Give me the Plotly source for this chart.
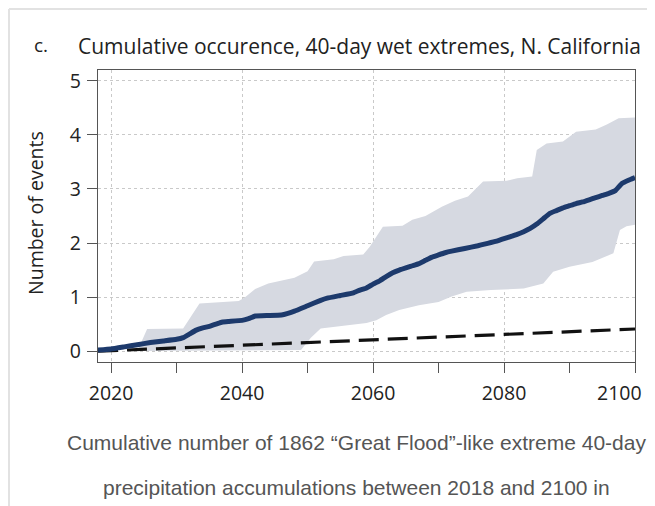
import plotly.graph_objects as go

# ---- data ----
mean_years = [2018, 2020, 2022, 2024, 2026, 2028, 2030, 2031, 2032, 2033, 2034, 2035, 2036, 2037, 2038,
              2040, 2041, 2042, 2044, 2046, 2047, 2048, 2050, 2052, 2053, 2055, 2057, 2058, 2059, 2060,
              2061, 2062, 2063, 2064, 2066, 2067, 2068, 2069, 2070, 2071, 2072, 2074, 2076, 2077, 2078,
              2079, 2080, 2081, 2082, 2083, 2084, 2085, 2086, 2087, 2088, 2089, 2090, 2091, 2092, 2093,
              2094, 2095, 2096, 2097, 2098, 2099, 2100]
mean_events = [0.02, 0.04, 0.08, 0.12, 0.16, 0.19, 0.22, 0.25, 0.32, 0.39, 0.43, 0.46, 0.50, 0.54, 0.55,
               0.57, 0.60, 0.65, 0.66, 0.67, 0.70, 0.74, 0.84, 0.94, 0.98, 1.03, 1.08, 1.13, 1.17, 1.24,
               1.30, 1.38, 1.45, 1.50, 1.58, 1.62, 1.68, 1.74, 1.78, 1.82, 1.85, 1.90, 1.95, 1.98, 2.01,
               2.04, 2.08, 2.12, 2.16, 2.21, 2.27, 2.35, 2.45, 2.55, 2.60, 2.65, 2.69, 2.73, 2.76, 2.80,
               2.84, 2.88, 2.92, 2.97, 3.10, 3.16, 3.21]

upper_years = [2018, 2024, 2025.5, 2031, 2033.5, 2039.5, 2040.5, 2042, 2044, 2046, 2048, 2050, 2051,
               2054, 2055.5, 2058.5, 2059.5, 2061.5, 2064.5, 2066, 2068, 2070.5, 2072.5, 2074.5, 2076.8,
               2080.4, 2082, 2084.3, 2085, 2086.5, 2089, 2091, 2094, 2095.7, 2097.5, 2100]
upper_events = [0.0, 0.0, 0.41, 0.42, 0.88, 0.93, 1.00, 1.15, 1.25, 1.30, 1.36, 1.48, 1.66,
                1.70, 1.76, 1.79, 1.93, 2.30, 2.32, 2.43, 2.50, 2.67, 2.78, 2.86, 3.14,
                3.15, 3.20, 3.23, 3.72, 3.84, 3.88, 4.06, 4.10, 4.19, 4.31, 4.32]

lower_years = [2018, 2049, 2050.5, 2052, 2056, 2059, 2060.5, 2062, 2064, 2067, 2070, 2072, 2074.3, 2078,
               2083, 2085, 2086, 2087.5, 2090, 2093.5, 2096.7, 2097.7, 2098.7, 2100]
lower_events = [0.0, 0.02, 0.25, 0.42, 0.48, 0.52, 0.57, 0.67, 0.76, 0.85, 0.91, 1.01, 1.10, 1.13,
                1.16, 1.22, 1.25, 1.47, 1.56, 1.65, 1.81, 2.24, 2.31, 2.34]

baseline_years = [2018, 2040, 2060, 2080, 2100]
baseline_events = [0.0, 0.11, 0.21, 0.31, 0.41]

x_tickvals = [2020, 2040, 2060, 2080, 2100]
x_ticktext = ["2020", "2040", "2060", "2080", ""]   # last label placed separately (shifted left)
last_x_label = "2100"
y_tickvals = [0, 1, 2, 3, 4, 5]

title_text = "Cumulative occurence, 40-day wet extremes, N. California"
panel_label = "c."
y_title = "Number of events"
caption_1 = "Cumulative number of 1862 \u201cGreat Flood\u201d-like extreme 40-day"
caption_2 = "precipitation accumulations between 2018 and 2100 in"

# ---- figure ----
OFF = 8  # page body margin
W, H = 655 - OFF, 506 - OFF
L, T = 98 - OFF, 70 - OFF
R = W - (635 - OFF)
B = H - (362 - OFF)
pw, ph = W - L - R, H - T - B


def px2x(px):  # page pixel -> paper
    return (px - OFF - L) / pw


def py2y(py):
    return (H - B - (py - OFF)) / ph


FONT = "Open Sans"
fig = go.Figure()

band_x = upper_years + lower_years[::-1]
band_y = upper_events + lower_events[::-1]
fig.add_trace(go.Scatter(x=band_x, y=band_y, fill="toself", mode="lines",
                         line=dict(width=0), fillcolor="#d6d9e1", hoverinfo="skip",
                         showlegend=False))
fig.add_trace(go.Scatter(x=baseline_years, y=baseline_events, mode="lines",
                         line=dict(color="#111111", width=3.2, dash="20px,9px"),
                         showlegend=False))
fig.add_trace(go.Scatter(x=mean_years, y=mean_events, mode="lines",
                         line=dict(color="#1d3a6c", width=5, shape="spline", smoothing=0.3),
                         showlegend=False))

TICKFONT = dict(family=FONT, size=19.5, color="#222222")
axis_common = dict(showline=True, linecolor="#555555", linewidth=1.3, mirror=True,
                   ticks="outside", ticklen=10, tickcolor="#555555", tickwidth=1.3,
                   gridcolor="#c9c9c9", griddash="dot", gridwidth=1, zeroline=False,
                   tickfont=TICKFONT)

fig.update_xaxes(range=[2018, 2100], tickvals=x_tickvals, ticktext=x_ticktext, ticklabelstandoff=3,
                 minor=dict(dtick=10, tick0=2010, ticks="outside", ticklen=10,
                            tickcolor="#555555", tickwidth=1.3, showgrid=False),
                 **axis_common)
fig.update_yaxes(range=[-0.2, 5.2], tickvals=y_tickvals, ticklabelstandoff=2, **axis_common)

ann = [
    dict(x=px2x(32), y=py2y(45), text=panel_label, xanchor="left", yanchor="middle",
         font=dict(family=FONT, size=19, color="#222222")),
    dict(x=px2x(76), y=py2y(46), text=title_text, xanchor="left", yanchor="middle",
         font=dict(family=FONT, size=21, color="#222222")),
    dict(x=px2x(35), y=py2y(213), text=y_title, textangle=-90, xanchor="center", yanchor="middle",
         font=dict(family=FONT, size=19.5, color="#222222")),
    dict(x=px2x(619), y=py2y(392), text=last_x_label, xanchor="center", yanchor="middle",
         font=TICKFONT),
    dict(x=px2x(356), y=py2y(442), text=caption_1, xanchor="center", yanchor="middle",
         font=dict(family="Liberation Sans", size=21, color="#555555")),
    dict(x=px2x(356), y=py2y(487), text=caption_2, xanchor="center", yanchor="middle",
         font=dict(family="Liberation Sans", size=21, color="#555555")),
]
for a in ann:
    a.update(xref="paper", yref="paper", showarrow=False)

shapes = [
    dict(type="line", xref="paper", yref="paper", x0=px2x(9), x1=px2x(9), y0=py2y(9), y1=py2y(520),
         line=dict(color="#e2e2e2", width=2)),
    dict(type="line", xref="paper", yref="paper", x0=px2x(9), x1=px2x(670), y0=py2y(9), y1=py2y(9),
         line=dict(color="#e2e2e2", width=2)),
]

fig.update_layout(width=W, height=H, margin=dict(l=L, r=R, t=T, b=B),
                  paper_bgcolor="white", plot_bgcolor="white",
                  annotations=ann, shapes=shapes, showlegend=False)

fig.write_html("out.html")
